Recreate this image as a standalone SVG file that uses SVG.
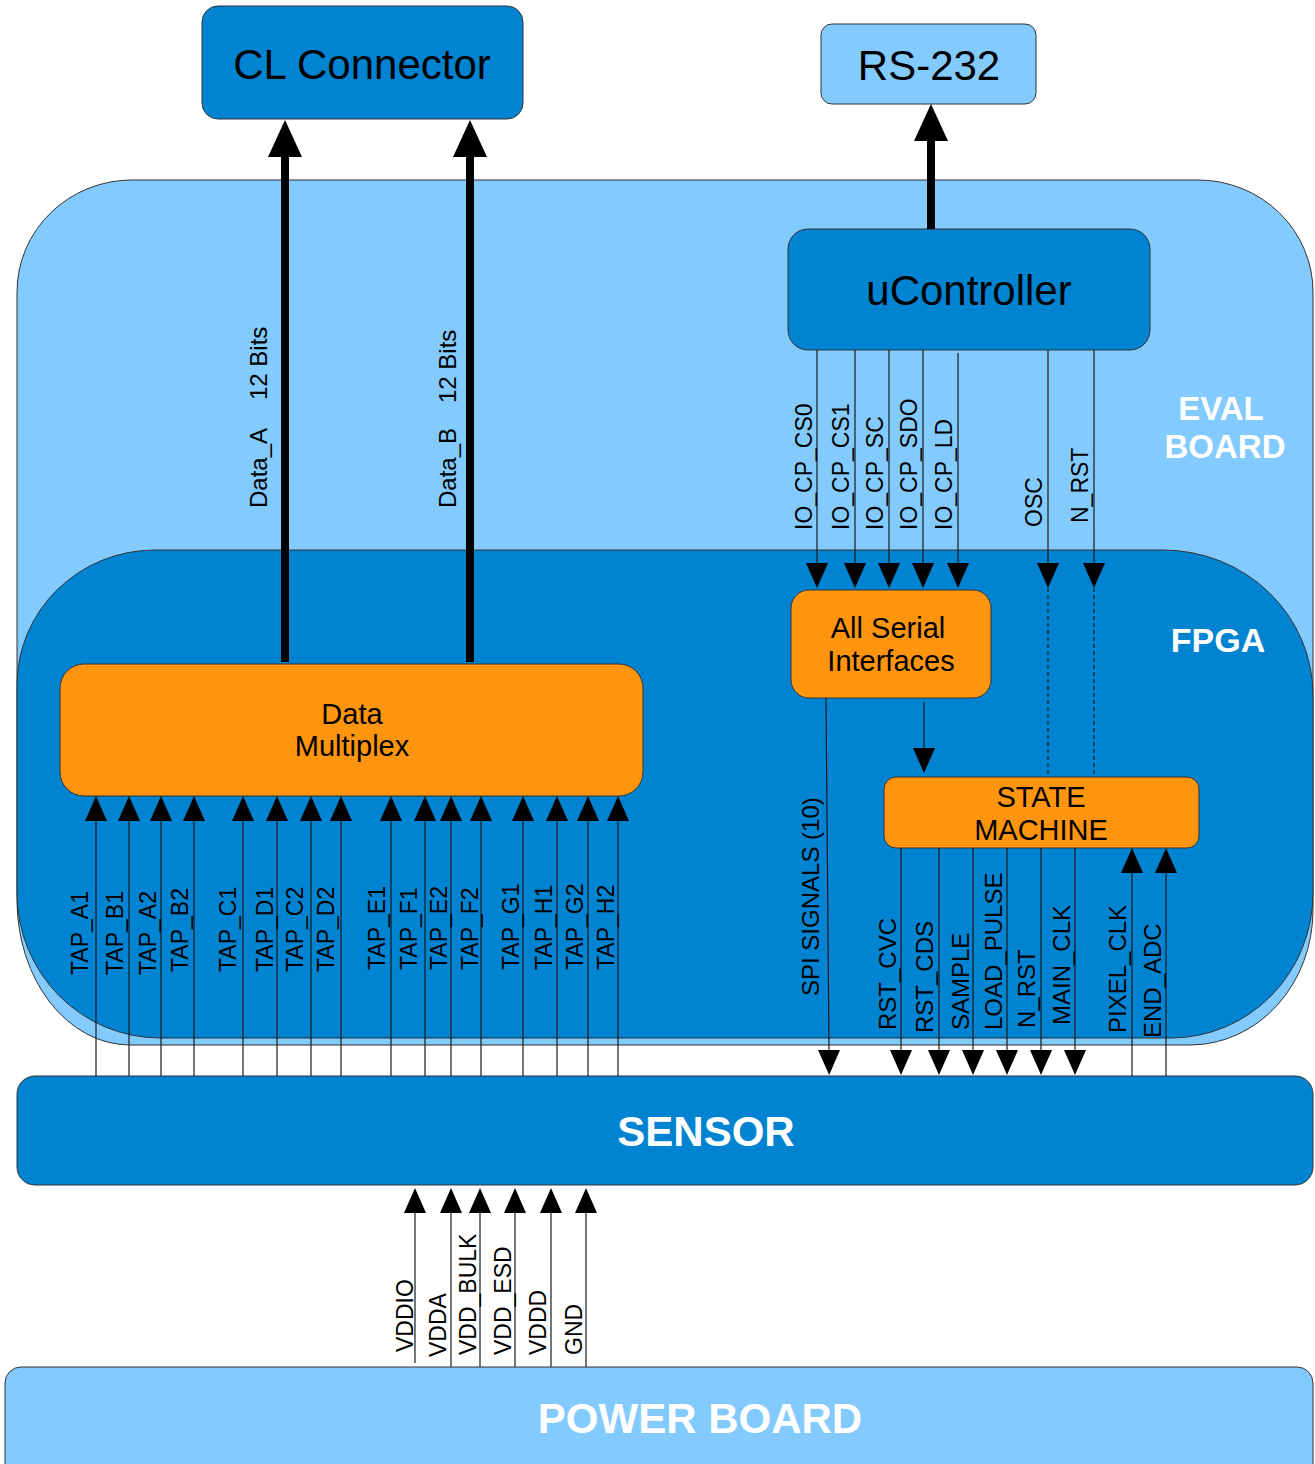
<svg xmlns="http://www.w3.org/2000/svg" width="1315" height="1464" viewBox="0 0 1315 1464">
<style>
text{font-family:"Liberation Sans",Arial,sans-serif;fill:#000}
.box{stroke:#333;stroke-width:1}
.dark{fill:#0084D1}
.light{fill:#83CAFF}
.orange{fill:#FF950E}
.big{font-size:42px;text-anchor:middle}
.mid{font-size:29px;text-anchor:middle}
.title{font-weight:bold;fill:#fff;text-anchor:middle}
.sig{font-size:24px}
.tap{font-size:23px}
.ln{stroke:#1a1a1a;stroke-width:1.2;fill:none}
.thick{stroke:#000;stroke-width:8;fill:none}
.dash{stroke:#1a1a1a;stroke-width:1.2;stroke-dasharray:4 3;fill:none}
</style>
<defs>
<marker id="ah" markerUnits="userSpaceOnUse" markerWidth="26" markerHeight="24" refX="0" refY="12" orient="auto" overflow="visible">
<path d="M0,1 L25,12 L0,23 z" fill="#000"/>
</marker>
<marker id="ahb" markerUnits="userSpaceOnUse" markerWidth="38" markerHeight="36" refX="0" refY="17" orient="auto" overflow="visible">
<path d="M0,0 L37,17 L0,34 z" fill="#000"/>
</marker>
</defs>

<g id="eval-board">
<path class="box light" d="M17,292 A115,112 0 0 1 132,180 L1198,180 A115,112 0 0 1 1313,292 L1313,910 A123,135 0 0 1 1190,1045 L130,1045 A113,145 0 0 1 17,900 Z"/>
<text class="title" x="1221" y="420" font-size="33">EVAL</text>
<text class="title" x="1225" y="458" font-size="33">BOARD</text>
</g>

<g id="fpga">
<path class="box dark" d="M17,685 A138,135 0 0 1 155,550 L1163,550 A150,145 0 0 1 1313,695 L1313,893 A142,145 0 0 1 1171,1038 L160,1038 A143,145 0 0 1 17,893 Z"/>
<text class="title" x="1218" y="652" font-size="34">FPGA</text>
</g>

<g id="cl-connector">
<rect class="box dark" x="202" y="6" width="321" height="113" rx="16"/>
<text class="big" x="362" y="79">CL Connector</text>
</g>

<g id="rs232">
<rect class="box light" x="821" y="24" width="215" height="80" rx="11"/>
<text class="big" x="929" y="80" font-size="39">RS-232</text>
</g>

<g id="ucontroller">
<rect class="box dark" x="788" y="229" width="362" height="121" rx="20"/>
<text class="big" x="969" y="305">uController</text>
</g>

<g id="data-multiplex">
<rect class="box orange" x="60" y="664" width="583" height="132" rx="24"/>
<text class="mid" x="352" y="724">Data</text>
<text class="mid" x="352" y="756">Multiplex</text>
</g>

<g id="all-serial">
<rect class="box orange" x="791" y="590" width="200" height="108" rx="18"/>
<text class="mid" x="888" y="638">All Serial</text>
<text class="mid" x="891" y="671">Interfaces</text>
</g>

<g id="state-machine">
<rect class="box orange" x="884" y="777" width="315" height="71" rx="12"/>
<text class="mid" x="1041" y="807">STATE</text>
<text class="mid" x="1041" y="840">MACHINE</text>
</g>

<g id="sensor">
<rect class="box dark" x="17" y="1076" width="1296" height="109" rx="18"/>
<text class="title" x="706" y="1146" font-size="42">SENSOR</text>
</g>

<g id="power-board">
<rect class="box light" x="5" y="1367" width="1308" height="120" rx="16"/>
<text class="title" x="700" y="1433" font-size="42">POWER BOARD</text>
</g>

<g id="connectors">
<path class="thick" d="M285,662 V157" marker-end="url(#ahb)"/>
<path class="thick" d="M470,662 V157" marker-end="url(#ahb)"/>
<path class="thick" d="M931,229 V141" marker-end="url(#ahb)"/>

<path class="ln" d="M817,350 V563" marker-end="url(#ah)"/>
<path class="ln" d="M855,350 V563" marker-end="url(#ah)"/>
<path class="ln" d="M889,350 V563" marker-end="url(#ah)"/>
<path class="ln" d="M923,350 V563" marker-end="url(#ah)"/>
<path class="ln" d="M958,353 V563" marker-end="url(#ah)"/>
<path class="ln" d="M1048,350 V563" marker-end="url(#ah)"/>
<path class="ln" d="M1094,350 V563" marker-end="url(#ah)"/>
<path class="dash" d="M1048,588 V777"/>
<path class="dash" d="M1094,588 V777"/>

<path class="ln" d="M924,702 V748" marker-end="url(#ah)"/>
<path class="ln" d="M826,698 L829,1050" marker-end="url(#ah)"/>

<path class="ln" d="M901,848 V1050" marker-end="url(#ah)"/>
<path class="ln" d="M939,848 V1050" marker-end="url(#ah)"/>
<path class="ln" d="M973,848 V1050" marker-end="url(#ah)"/>
<path class="ln" d="M1007,848 V1050" marker-end="url(#ah)"/>
<path class="ln" d="M1041,848 V1050" marker-end="url(#ah)"/>
<path class="ln" d="M1075,848 V1050" marker-end="url(#ah)"/>
<path class="ln" d="M1132,1076 V873" marker-end="url(#ah)"/>
<path class="ln" d="M1166,1076 V873" marker-end="url(#ah)"/>

<path class="ln" d="M96,1076 V821" marker-end="url(#ah)"/>
<path class="ln" d="M129,1076 V821" marker-end="url(#ah)"/>
<path class="ln" d="M161,1076 V821" marker-end="url(#ah)"/>
<path class="ln" d="M194,1076 V821" marker-end="url(#ah)"/>
<path class="ln" d="M243,1076 V821" marker-end="url(#ah)"/>
<path class="ln" d="M277,1076 V821" marker-end="url(#ah)"/>
<path class="ln" d="M311,1076 V821" marker-end="url(#ah)"/>
<path class="ln" d="M341,1076 V821" marker-end="url(#ah)"/>
<path class="ln" d="M391,1076 V821" marker-end="url(#ah)"/>
<path class="ln" d="M425,1076 V821" marker-end="url(#ah)"/>
<path class="ln" d="M451,1076 V821" marker-end="url(#ah)"/>
<path class="ln" d="M481,1076 V821" marker-end="url(#ah)"/>
<path class="ln" d="M523,1076 V821" marker-end="url(#ah)"/>
<path class="ln" d="M557,1076 V821" marker-end="url(#ah)"/>
<path class="ln" d="M588,1076 V821" marker-end="url(#ah)"/>
<path class="ln" d="M618,1076 V821" marker-end="url(#ah)"/>

<path class="ln" d="M415,1363 V1213" marker-end="url(#ah)"/>
<path class="ln" d="M451,1367 V1213" marker-end="url(#ah)"/>
<path class="ln" d="M480,1367 V1213" marker-end="url(#ah)"/>
<path class="ln" d="M515,1367 V1213" marker-end="url(#ah)"/>
<path class="ln" d="M551,1367 V1213" marker-end="url(#ah)"/>
<path class="ln" d="M586,1367 V1213" marker-end="url(#ah)"/>
</g>

<g id="labels">
<text class="sig" transform="translate(267,508) rotate(-90)">Data_A</text>
<text class="sig" transform="translate(267,400) rotate(-90)">12 Bits</text>
<text class="sig" transform="translate(456,508) rotate(-90)">Data_B</text>
<text class="sig" transform="translate(456,403) rotate(-90)">12 Bits</text>

<text class="tap" transform="translate(812,530) rotate(-90)">IO_CP_CS0</text>
<text class="tap" transform="translate(849,530) rotate(-90)">IO_CP_CS1</text>
<text class="tap" transform="translate(883,530) rotate(-90)">IO_CP_SC</text>
<text class="tap" transform="translate(917,530) rotate(-90)">IO_CP_SDO</text>
<text class="tap" transform="translate(952,530) rotate(-90)">IO_CP_LD</text>
<text class="tap" transform="translate(1042,527) rotate(-90)">OSC</text>
<text class="tap" transform="translate(1088,523) rotate(-90)">N_RST</text>

<text class="sig" transform="translate(819,996) rotate(-90)">SPI SIGNALS (10)</text>
<text class="sig" transform="translate(896,1030) rotate(-90)">RST_CVC</text>
<text class="sig" transform="translate(933,1033) rotate(-90)">RST_CDS</text>
<text class="sig" transform="translate(969,1030) rotate(-90)">SAMPLE</text>
<text class="sig" transform="translate(1002,1030) rotate(-90)">LOAD_PULSE</text>
<text class="sig" transform="translate(1035,1028) rotate(-90)">N_RST</text>
<text class="sig" transform="translate(1070,1025) rotate(-90)">MAIN_CLK</text>
<text class="sig" transform="translate(1126,1033) rotate(-90)">PIXEL_CLK</text>
<text class="sig" transform="translate(1161,1038) rotate(-90)">END_ADC</text>

<text class="tap" transform="translate(88,975) rotate(-90)">TAP_A1</text>
<text class="tap" transform="translate(123,975) rotate(-90)">TAP_B1</text>
<text class="tap" transform="translate(156,975) rotate(-90)">TAP_A2</text>
<text class="tap" transform="translate(188,972) rotate(-90)">TAP_B2</text>
<text class="tap" transform="translate(236,972) rotate(-90)">TAP_C1</text>
<text class="tap" transform="translate(273,972) rotate(-90)">TAP_D1</text>
<text class="tap" transform="translate(303,972) rotate(-90)">TAP_C2</text>
<text class="tap" transform="translate(334,972) rotate(-90)">TAP_D2</text>
<text class="tap" transform="translate(385,970) rotate(-90)">TAP_E1</text>
<text class="tap" transform="translate(417,970) rotate(-90)">TAP_F1</text>
<text class="tap" transform="translate(447,970) rotate(-90)">TAP_E2</text>
<text class="tap" transform="translate(478,970) rotate(-90)">TAP_F2</text>
<text class="tap" transform="translate(519,970) rotate(-90)">TAP_G1</text>
<text class="tap" transform="translate(552,970) rotate(-90)">TAP_H1</text>
<text class="tap" transform="translate(583,970) rotate(-90)">TAP_G2</text>
<text class="tap" transform="translate(614,970) rotate(-90)">TAP_H2</text>

<text class="tap" transform="translate(413,1352) rotate(-90)">VDDIO</text>
<text class="tap" transform="translate(446,1357) rotate(-90)">VDDA</text>
<text class="tap" transform="translate(476,1355) rotate(-90)">VDD_BULK</text>
<text class="tap" transform="translate(511,1355) rotate(-90)">VDD_ESD</text>
<text class="tap" transform="translate(546,1355) rotate(-90)">VDDD</text>
<text class="tap" transform="translate(582,1355) rotate(-90)">GND</text>
</g>
</svg>
